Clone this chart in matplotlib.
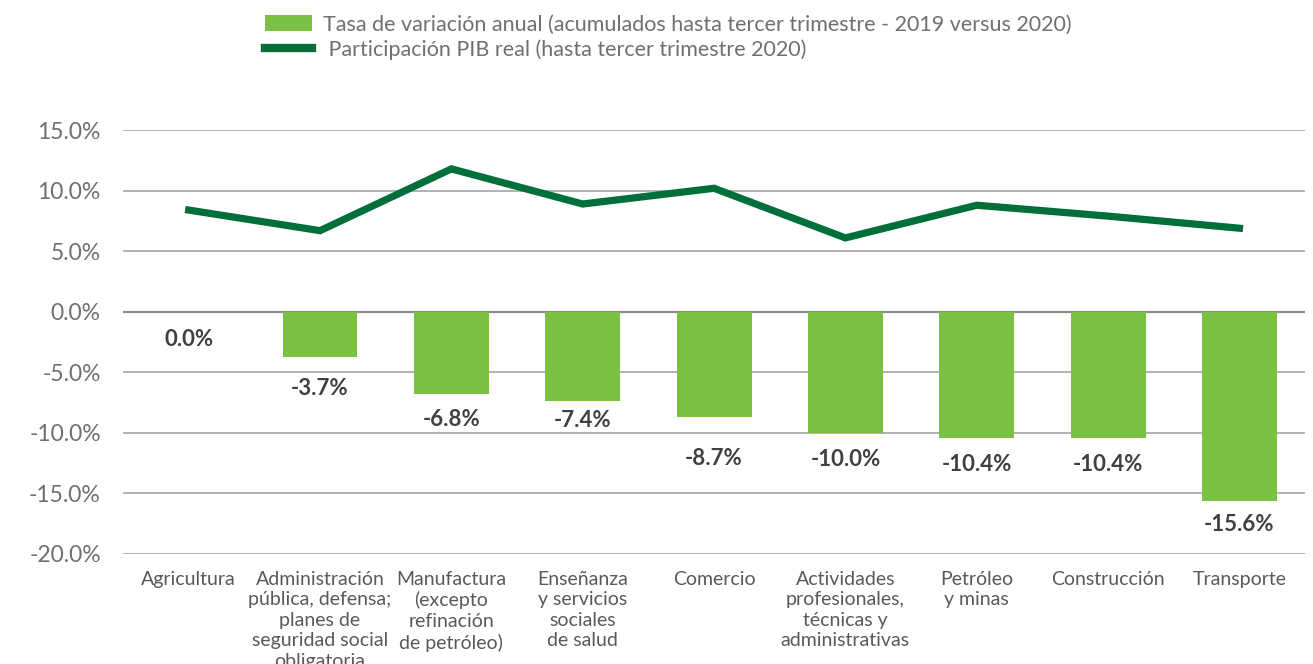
"""
Tasa de variación anual vs participación PIB real por sector
"""

import numpy as np
import matplotlib.pyplot as plt
from matplotlib.patches import Patch
from matplotlib.lines import Line2D

# ---------------------------------------------------------------------------- #
# Data
# ---------------------------------------------------------------------------- #
sectors = ['Agricultura',
           'Administración\npública, defensa;\nplanes de\nseguridad social\nobligatoria',
           'Manufactura\n(excepto\nrefinación\nde petróleo)',
           'Enseñanza\ny servicios\nsociales\nde salud',
           'Comercio',
           'Actividades\nprofesionales,\ntécnicas y\nadministrativas',
           'Petróleo\ny minas',
           'Construcción',
           'Transporte']
variacion = [0.0, -3.7, -6.8, -7.4, -8.7, -10.0, -10.4, -10.4, -15.6]
participacion = [8.4, 6.7, 11.8, 8.9, 10.2, 6.1, 8.8, 7.9, 6.9]
yticks = [15, 10, 5, 0, -5, -10, -15, -20]

bar_label = 'Tasa de variación anual (acumulados hasta tercer trimestre - 2019 versus 2020)'
line_label = ' Participación PIB real (hasta tercer trimestre 2020)'

# ---------------------------------------------------------------------------- #
# Style
# ---------------------------------------------------------------------------- #
bar_colour = '#7bc143'
line_colour = '#006f3a'
grid_colour = '#a6a6a6'
tick_colour = '#6f6f6f'
label_colour = '#404040'
plt.rcParams['font.family'] = ['Lato', 'DejaVu Sans']

# vertical offset (points) of the value labels under each bar
label_offsets = [-20, -23, -18, -14, -30, -19, -19, -19, -17]

fig = plt.figure(figsize=(13.13, 6.64), dpi=100)
ax = fig.add_axes([0.0937, 0.1657, 0.9003, 0.6383])

x = np.arange(len(sectors))
ax.bar(x, variacion, width=0.57, color=bar_colour, zorder=2)
ax.plot(x, participacion, color=line_colour, lw=5.2, zorder=3,
        solid_joinstyle='miter')

for xi, val, off in zip(x, variacion, label_offsets):
    ax.annotate(f'{val:.1f}%', (xi, val), xytext=(0, off),
                textcoords='offset points', ha='center', va='center',
                fontsize=16, fontweight='bold', color=label_colour)

ax.set_xlim(-0.5, len(sectors) - 0.5)
ax.set_ylim(-20, 15)
ax.set_yticks(yticks)
ax.set_yticklabels([f'{t:.1f}%' for t in yticks])
ax.yaxis.grid(True, color=grid_colour, lw=1.2, zorder=0)
ax.axhline(0, color='#8c8c8c', lw=1.6, zorder=1)
ax.set_axisbelow(True)
for spine in ax.spines.values():
    spine.set_visible(False)
ax.tick_params(axis='y', length=0, pad=16, labelsize=16.5, labelcolor=tick_colour)
ax.tick_params(axis='x', length=0, pad=12)
ax.set_xticks(x)
ax.set_xticklabels(sectors, fontsize=14, color='#595959', linespacing=1.25,
                   va='top', ha='center')

handles = [Patch(facecolor=bar_colour, edgecolor='none'),
           Line2D([0], [0], color=line_colour, lw=6)]
fig.legend(handles, [bar_label, line_label], loc='upper left',
           bbox_to_anchor=(0.187, 1.007), frameon=False, fontsize=15.5,
           labelcolor='#707070', handlelength=2.2, handleheight=0.75,
           handletextpad=0.5, labelspacing=0.2)

fig.savefig('out.png', dpi=100)
plt.close()
